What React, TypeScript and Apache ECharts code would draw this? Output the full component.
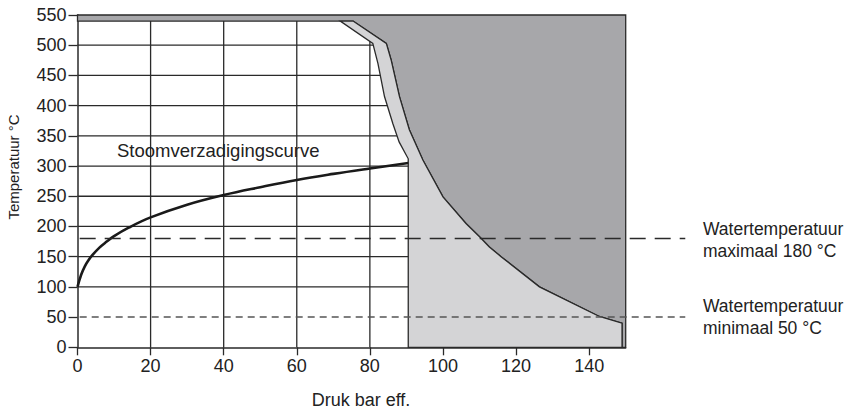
import React, { useEffect, useRef } from 'react';
import * as echarts from 'echarts';

// Steam saturation curve (pressure bar gauge -> temperature °C)
const steamP = [0, 1, 2, 3, 4, 6, 8, 10, 14, 20, 30, 40, 50, 60, 70, 80, 90.5];
const steamT = [100, 120, 134, 144, 152, 165, 175, 184, 198, 215, 236, 252, 265, 277, 287, 296, 305];

// Outer boundary (light grey / dark grey)
const outerP = [75.4, 84.5, 85.8, 88.1, 90.8, 94.5, 100, 106.3, 110, 112.7, 115.9, 126.4, 142.8, 149];
const outerT = [540, 503, 476, 415, 360, 310, 249, 205, 183, 166, 150, 100, 51, 40];

// Inner boundary (white / light grey)
const innerP = [71.9, 80.8, 82.2, 84, 86.3, 88, 90.5];
const innerT = [540, 503, 470, 415, 370, 340, 312];

const xTicks = [0, 20, 40, 60, 80, 100, 120, 140];
const xMax = 150;
const yMax = 550;
const bandT = 540;
const limitP = 149;
const boilerMaxP = 90.5;

const hGrid = [100, 150, 200, 250, 300, 350, 400, 450, 500];
const vGrid = [20, 40, 60, 80];

const waterMax = 180;
const waterMin = 50;
const dashEndP = 166.3;

const TXT = '#222222';
const LINE = '#2a2a2a';
const DARK = '#a7a7aa';
const LIGHT = '#d4d4d6';
const FONT = '"Liberation Sans", Arial, sans-serif';

const zip = (a: number[], b: number[]) => a.map((v, i) => [v, b[i]]);

export default function App() {
  const ref = useRef<HTMLDivElement>(null);
  useEffect(() => {
    if (!ref.current) return;
    const chart = echarts.init(ref.current, null, { renderer: 'svg' });

    const outer = zip(outerP, outerT);
    const inner = zip(innerP, innerT);

    const darkPoly = [
      [0, yMax], [xMax, yMax], [xMax, 0], [limitP, 0],
      ...outer.slice().reverse(),
      [0, bandT],
    ];
    const lightPoly = [
      ...outer,
      [limitP, 0], [boilerMaxP, 0],
      ...inner.slice().reverse(),
    ];

    const polySeries = (pts: number[][], fill: string, z: number) => ({
      type: 'custom',
      coordinateSystem: 'cartesian2d',
      silent: true,
      clip: false,
      z,
      data: [pts[0]],
      renderItem: (_p: any, api: any) => ({
        type: 'polygon',
        shape: { points: pts.map((p) => api.coord(p)) },
        style: { fill, stroke: LINE, lineWidth: 1.3 },
      }),
    });

    const gridSeries = {
      type: 'custom',
      coordinateSystem: 'cartesian2d',
      silent: true,
      z: 1,
      data: [[0, 0]],
      renderItem: (_p: any, api: any) => ({
        type: 'group',
        children: [
          ...hGrid.map((v) => {
            const a = api.coord([0, v]);
            const b = api.coord([xMax, v]);
            return { type: 'line', shape: { x1: a[0], y1: a[1], x2: b[0], y2: b[1] }, style: { stroke: LINE, lineWidth: 1.3 } };
          }),
          ...vGrid.map((v) => {
            const a = api.coord([v, 0]);
            const b = api.coord([v, yMax]);
            return { type: 'line', shape: { x1: a[0], y1: a[1], x2: b[0], y2: b[1] }, style: { stroke: LINE, lineWidth: 1.3 } };
          }),
        ],
      }),
    };

    const dashSeries = (t: number, color: string, dash: number[], z: number) => ({
      type: 'custom',
      coordinateSystem: 'cartesian2d',
      silent: true,
      clip: false,
      z,
      data: [[0.6, t]],
      renderItem: (_p: any, api: any) => {
        const a = api.coord([0.6, t]);
        const b = api.coord([dashEndP, t]);
        return {
          type: 'line',
          shape: { x1: a[0], y1: a[1], x2: b[0], y2: b[1] },
          style: { stroke: color, lineWidth: 1.5, lineDash: dash },
        };
      },
    });

    chart.setOption({
      animation: false,
      grid: { left: 77.5, right: 230.3, top: 15, bottom: 66.7 },
      xAxis: {
        type: 'value',
        min: 0,
        max: xMax,
        interval: 20,
        axisLine: { show: true, onZero: false, lineStyle: { color: LINE, width: 1.5 } },
        axisTick: { show: true, length: 8, customValues: xTicks, lineStyle: { color: LINE, width: 1.3 } },
        axisLabel: { color: TXT, fontSize: 18, fontFamily: FONT, margin: 10, customValues: xTicks },
        splitLine: { show: false },
      },
      yAxis: {
        type: 'value',
        min: 0,
        max: yMax,
        interval: 50,
        axisLine: { show: true, lineStyle: { color: LINE, width: 1.5 } },
        axisTick: { show: true, length: 9, lineStyle: { color: LINE, width: 1.3 } },
        axisLabel: { color: TXT, fontSize: 18, fontFamily: FONT, margin: 11 },
        splitLine: { show: false },
      },
      graphic: [
        { type: 'text', x: 117, y: 150, z: 10, style: { text: 'Stoomverzadigingscurve', fill: TXT, font: `18.5px ${FONT}`, textVerticalAlign: 'middle' } },
        { type: 'text', x: 703, y: 229, style: { text: 'Watertemperatuur', fill: TXT, font: `17.5px ${FONT}`, textVerticalAlign: 'middle' } },
        { type: 'text', x: 703, y: 251, style: { text: 'maximaal 180 °C', fill: TXT, font: `17.5px ${FONT}`, textVerticalAlign: 'middle' } },
        { type: 'text', x: 703, y: 306, style: { text: 'Watertemperatuur', fill: TXT, font: `17.5px ${FONT}`, textVerticalAlign: 'middle' } },
        { type: 'text', x: 703, y: 328, style: { text: 'minimaal 50 °C', fill: TXT, font: `17.5px ${FONT}`, textVerticalAlign: 'middle' } },
        { type: 'text', x: 361, y: 400, style: { text: 'Druk bar eff.', fill: TXT, font: `18px ${FONT}`, textAlign: 'center', textVerticalAlign: 'middle' } },
        { type: 'text', x: 13, y: 167, rotation: Math.PI / 2, style: { text: 'Temperatuur °C', fill: TXT, font: `15px ${FONT}`, textAlign: 'center', textVerticalAlign: 'middle' } },
      ],
      series: [
        gridSeries,
        polySeries(darkPoly, DARK, 2),
        polySeries(lightPoly, LIGHT, 3),
        {
          type: 'line',
          z: 4,
          data: zip(steamP, steamT),
          smooth: 0.4,
          showSymbol: false,
          silent: true,
          lineStyle: { color: '#1a1a1a', width: 2.6 },
        },
        dashSeries(waterMax, '#2a2a2a', [16, 9], 5),
        dashSeries(waterMin, '#555555', [7, 5], 5),
      ],
    });
    return () => chart.dispose();
  }, []);
  return <div ref={ref} style={{ width: 856, height: 414, position: 'absolute', left: 0, top: 0 }} />;
}
